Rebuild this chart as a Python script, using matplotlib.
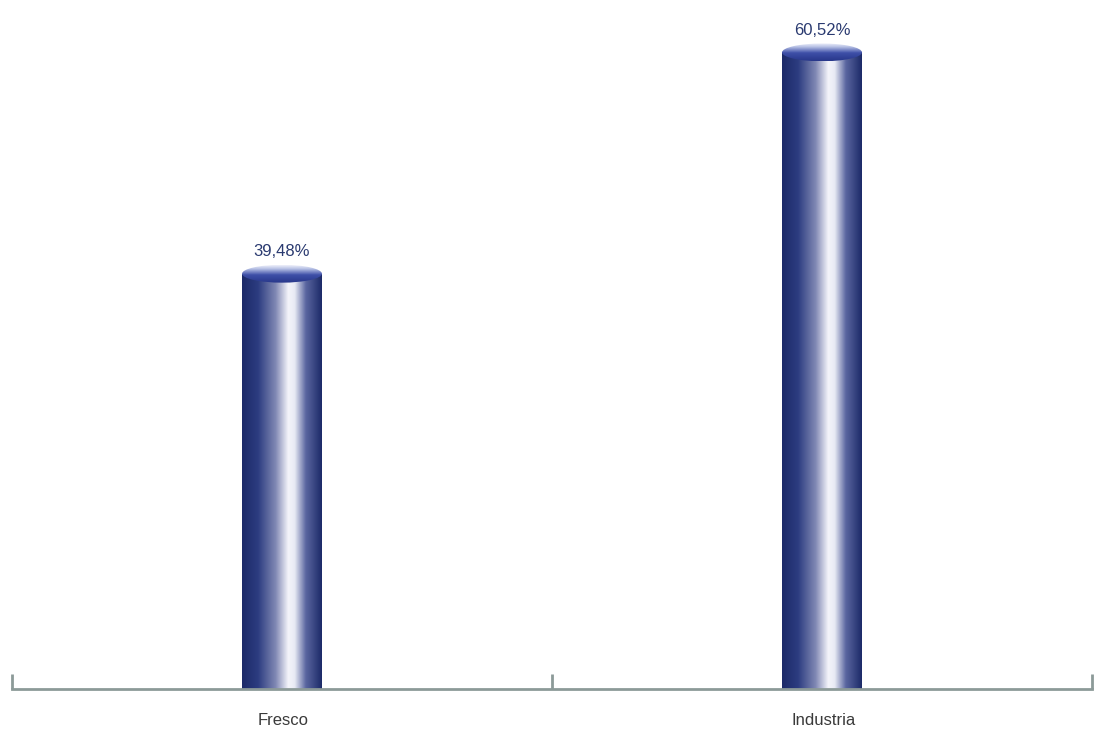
import numpy as np
import matplotlib.pyplot as plt
from matplotlib.colors import LinearSegmentedColormap
from matplotlib.patches import Ellipse

categories = ['Fresco', 'Industria']
values = [39.48, 60.52]
labels = ['39,48%', '60,52%']

body_cmap = LinearSegmentedColormap.from_list('body', [
    (0.0, '#1c2a68'), (0.2, '#2c3c80'), (0.42, '#8088b4'),
    (0.58, '#f4f4fa'), (0.66, '#e8eaf4'), (0.8, '#5a66a0'), (1.0, '#1c2a68')])
top_cmap = LinearSegmentedColormap.from_list('top', [
    (0.0, '#28378a'), (0.45, '#3e4fa8'), (0.8, '#b8c2e6'), (1.0, '#eef0fa')])

fig = plt.figure(figsize=(10.94, 7.33), dpi=100)
ax = fig.add_axes([12 / 1094, 44 / 733, 1080 / 1094, 689 / 733])

x = np.arange(len(categories))
width = 0.148
bars = ax.bar(x, values, width=width, color='none', edgecolor='none')

ax.set_xlim(-0.5, len(categories) - 0.5)
ax.set_ylim(0, 65.5)

grad = np.linspace(0, 1, 256).reshape(1, -1)
vgrad = np.linspace(1, 0, 64).reshape(-1, 1)
eh = 1.7
for b, v, lab in zip(bars, values, labels):
    x0, w = b.get_x(), b.get_width()
    im = ax.imshow(grad, cmap=body_cmap, aspect='auto',
                   extent=[x0, x0 + w, 0, v], zorder=2)
    im.set_clip_path(b)
    b.set_zorder(2)
    e = Ellipse((x0 + w / 2, v), w, eh, facecolor='none', edgecolor='none', zorder=3)
    ax.add_patch(e)
    im2 = ax.imshow(vgrad, cmap=top_cmap, aspect='auto',
                    extent=[x0, x0 + w, v - eh / 2, v + eh / 2], zorder=3)
    im2.set_clip_path(e)
    ax.text(x0 + w / 2, v + 1.4, lab, ha='center', va='bottom',
            fontsize=12, color='#2a3a70', family='Liberation Sans')

for s in ['top', 'right', 'left']:
    ax.spines[s].set_visible(False)
ax.spines['bottom'].set_color('#8c9a98')
ax.spines['bottom'].set_linewidth(2)
ax.set_yticks([])
ax.set_xticks(x + 0.003)
ax.set_xticklabels(categories, fontsize=12, color='#3a3a3a', family='Liberation Sans')
ax.tick_params(axis='x', which='major', length=0, pad=17)
ax.set_xticks([-0.5, 0.5, 1.5], minor=True)
ax.tick_params(axis='x', which='minor', direction='in', length=11, width=2, color='#8c9a98')

fig.savefig('out.png', dpi=100)
